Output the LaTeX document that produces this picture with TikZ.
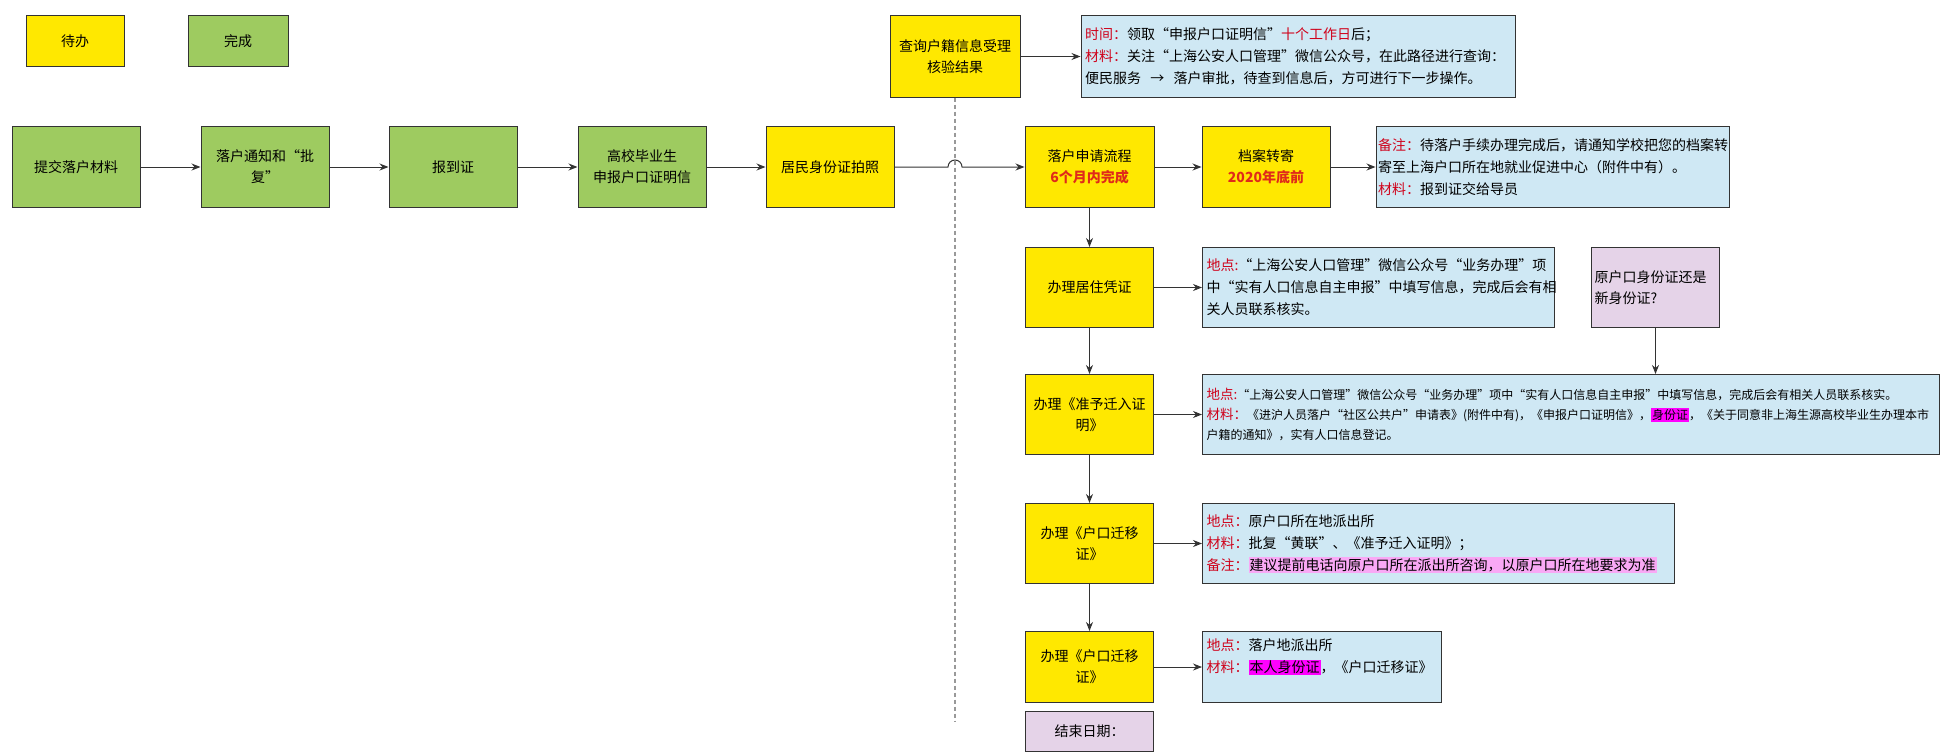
\documentclass[tikz,border=0pt]{standalone}
\usepackage{fontspec}
\setmainfont{Noto Sans CJK SC}
\usetikzlibrary{arrows.meta, positioning}

\definecolor{todoyellow}{HTML}{FFE800}
\definecolor{donegreen}{HTML}{9ECB60}
\definecolor{infoblue}{HTML}{CFE8F4}
\definecolor{notepurple}{HTML}{E5D3E8}
\definecolor{edgegray}{HTML}{333333}
\definecolor{dashgray}{HTML}{999999}
\definecolor{labelred}{HTML}{D0021B}
\definecolor{boldred}{HTML}{E02A1A}
\definecolor{hlmagenta}{HTML}{FF00FF}
\definecolor{hlpink}{HTML}{F9A8F5}

\newcommand{\redlbl}[1]{\textcolor{labelred}{#1}}
\newcommand{\hlbox}[2]{{\setlength{\fboxsep}{1pt}\colorbox{#1}{#2}}}

\begin{document}
\begin{tikzpicture}[x=1pt, y=1pt, font=\fontsize{14}{21}\selectfont,
  box/.style={draw=edgegray, line width=1pt, minimum width=128pt, minimum height=81pt, inner sep=2pt, align=center},
  todo/.style={box, fill=todoyellow},
  done/.style={box, fill=donegreen},
  note/.style={box, fill=notepurple},
  info/.style={draw=edgegray, line width=1pt, fill=infoblue, inner xsep=4pt, inner ysep=3pt, align=left,
    font=\fontsize{14}{22}\selectfont},
  arr/.style={-{Stealth[length=9pt,width=7pt]}, edgegray, line width=1pt},
  dashline/.style={dashgray, line width=1.5pt, dash pattern=on 4pt off 3pt}]
\useasboundingbox (0,0) rectangle (1943,-752);

% legend
\node[todo, minimum width=98pt, minimum height=51pt] (legtodo) at (75,-41.5) {待办};
\node[done, minimum width=100pt, minimum height=51pt, right=63pt of legtodo] (legdone) {完成};

% done steps
\node[done] (submit) at (76,-167) {提交落户材料};
\node[done, right=60pt of submit] (notice) {落户通知和“批\\复”};
\node[done, right=59pt of notice] (report) {报到证};
\node[done, right=60pt of report] (letter) {高校毕业生\\申报户口证明信};
\node[todo, right=59pt of letter] (idphoto) {居民身份证拍照};

% check result
\node[todo, minimum width=130pt] (query) at (955,-56.5) {查询户籍信息受理\\核验结果};
\node[info, text width=426pt, minimum height=81pt, right=60pt of query] (infoquery)
  {\redlbl{时间：}领取“申报户口证明信”\redlbl{十个工作日}后；\\
   \redlbl{材料：}关注“上海公安人口管理”微信公众号，在此路径进行查询：\\
   便民服务 \ → \ 落户审批，待查到信息后，方可进行下一步操作。};

% application
\node[todo, minimum width=129pt] (apply) at (1089.5,-167)
  {落户申请流程\\\textcolor{boldred}{\bfseries 6个月内完成}};
\node[todo, right=47pt of apply] (archive) {档案转寄\\\textcolor{boldred}{\bfseries 2020年底前}};
\node[info, inner xsep=2pt, text width=349pt, minimum height=81pt, right=45pt of archive] (infoarch)
  {\redlbl{备注：}待落户手续办理完成后，请通知学校把您的档案转\\
   寄至上海户口所在地就业促进中心（附件中有）。\\
   \redlbl{材料：}报到证交给导员};

\node[todo, minimum height=80pt, below=39pt of apply] (residence) {办理居住凭证};
\node[info, text width=344pt, minimum height=80pt, right=48pt of residence] (inforesid)
  {\redlbl{地点:}“上海公安人口管理”微信公众号“业务办理”项\\
   中“实有人口信息自主申报”中填写信息，完成后会有相\\
   关人员联系核实。};
\node[note, minimum height=80pt, align=left, text width=122pt, right=36pt of inforesid] (idquestion)
  {原户口身份证还是\\新身份证?};

\node[todo, minimum height=80pt, below=46pt of residence] (permit) {办理《准予迁入证\\明》};
\node[info, text width=729pt, minimum height=80pt, right=48pt of permit,
  font=\fontsize{12}{20}\selectfont] (infopermit)
  {{\fontsize{13.5}{20}\selectfont\redlbl{地点:}}“上海公安人口管理”微信公众号“业务办理”项中“实有人口信息自主申报”中填写信息，完成后会有相关人员联系核实。\\
   {\fontsize{13.5}{20}\selectfont\redlbl{材料：}}《进沪人员落户“社区公共户”申请表》(附件中有)，《申报户口证明信》，\hlbox{hlmagenta}{身份证}，《关于同意非上海生源高校毕业生办理本市\\
   户籍的通知》，实有人口信息登记。};

\node[todo, minimum height=80pt, below=48pt of permit] (moveout) {办理《户口迁移\\证》};
\node[info, text width=464pt, minimum height=80pt, right=48pt of moveout] (infomoveout)
  {\redlbl{地点：}原户口所在地派出所\\
   \redlbl{材料：}批复“黄联”、《准予迁入证明》；\\
   \redlbl{备注：}\hlbox{hlpink}{建议提前电话向原户口所在派出所咨询，以原户口所在地要求为准}};

\node[todo, minimum height=71pt, below=47pt of moveout] (movein) {办理《户口迁移\\证》};
\node[info, text width=231pt, minimum height=71pt, right=48pt of movein] (infomovein)
  {\redlbl{地点：}落户地派出所\\
   \redlbl{材料：}\hlbox{hlmagenta}{本人身份证}，《户口迁移证》\\\mbox{}};
\node[note, minimum height=40pt, below=8pt of movein] (enddate) {结束日期：};

% divider
\coordinate (dashend) at (955,-722);
\draw[dashline] (query.south) -- (dashend);

% connectors
\foreach \a/\b in {submit/notice, notice/report, report/letter, letter/idphoto,
    query/infoquery, apply/archive, archive/infoarch, residence/inforesid,
    permit/infopermit, moveout/infomoveout, movein/infomovein,
    apply/residence, residence/permit, permit/moveout, moveout/movein}
  \draw[arr] (\a) -- (\b);
\coordinate (jump) at (query.south |- idphoto.east);
\draw[arr] (idphoto.east) -- ([xshift=-7pt]jump) arc[start angle=180, end angle=0, radius=7pt] -- (apply.west);
\draw[arr] (idquestion.south) -- (idquestion.south |- infopermit.north);
\end{tikzpicture}
\end{document}
